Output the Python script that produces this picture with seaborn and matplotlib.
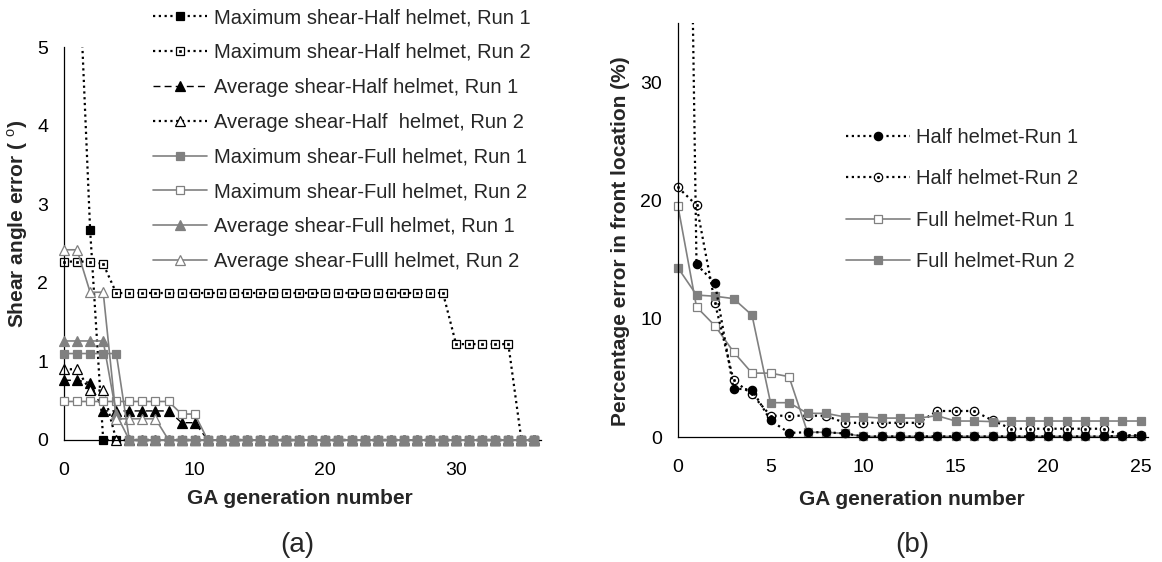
import matplotlib
matplotlib.use("Agg")
import matplotlib.pyplot as plt
import seaborn as sns
import pandas as pd
from matplotlib.lines import Line2D
from matplotlib.legend_handler import HandlerTuple
from matplotlib.transforms import Bbox, TransformedBbox

# ---------------- data: panel (a) ----------------
gen_a = list(range(37))
max_half_r1 = [7.0, 6.6, 2.67, 0, 0, 0, 0, 0, 0, 0, 0, 0, 0, 0, 0, 0, 0, 0, 0, 0,
               0, 0, 0, 0, 0, 0, 0, 0, 0, 0, 0, 0, 0, 0, 0, 0, 0]
max_half_r2 = [2.27, 2.27, 2.27, 2.24, 1.87, 1.87, 1.87, 1.87, 1.87, 1.87, 1.87, 1.87,
               1.87, 1.87, 1.87, 1.87, 1.87, 1.87, 1.87, 1.87, 1.87, 1.87, 1.87, 1.87,
               1.87, 1.87, 1.87, 1.87, 1.87, 1.87, 1.22, 1.22, 1.22, 1.22, 1.22, 0, 0]
avg_half_r1 = [0.76, 0.76, 0.73, 0.37, 0.37, 0.37, 0.37, 0.37, 0.37, 0.22, 0.22, 0, 0,
               0, 0, 0, 0, 0, 0, 0, 0, 0, 0, 0, 0, 0, 0, 0, 0, 0, 0, 0, 0, 0, 0, 0, 0]
avg_half_r2 = [0.9, 0.9, 0.63, 0.63, 0, 0, 0, 0, 0, 0, 0, 0, 0, 0, 0, 0, 0, 0, 0, 0,
               0, 0, 0, 0, 0, 0, 0, 0, 0, 0, 0, 0, 0, 0, 0, 0, 0]
max_full_r1 = [1.1, 1.1, 1.1, 1.1, 1.1, 0, 0, 0, 0, 0, 0, 0, 0, 0, 0, 0, 0, 0, 0, 0,
               0, 0, 0, 0, 0, 0, 0, 0, 0, 0, 0, 0, 0, 0, 0, 0, 0]
max_full_r2 = [0.49, 0.49, 0.49, 0.49, 0.49, 0.49, 0.49, 0.49, 0.49, 0.33, 0.33, 0, 0,
               0, 0, 0, 0, 0, 0, 0, 0, 0, 0, 0, 0, 0, 0, 0, 0, 0, 0, 0, 0, 0, 0, 0, 0]
avg_full_r1 = [1.26, 1.26, 1.26, 1.26, 0.33, 0, 0, 0, 0, 0, 0, 0, 0, 0, 0, 0, 0, 0, 0,
               0, 0, 0, 0, 0, 0, 0, 0, 0, 0, 0, 0, 0, 0, 0, 0, 0, 0]
avg_full_r2 = [2.42, 2.42, 1.88, 1.88, 0.27, 0.27, 0.27, 0.27, 0, 0, 0, 0, 0, 0, 0, 0,
               0, 0, 0, 0, 0, 0, 0, 0, 0, 0, 0, 0, 0, 0, 0, 0, 0, 0, 0, 0, 0]
labels_a = ["Maximum shear-Half helmet, Run 1",
            "Maximum shear-Half helmet, Run 2",
            "Average shear-Half helmet, Run 1",
            "Average shear-Half  helmet, Run 2",
            "Maximum shear-Full helmet, Run 1",
            "Maximum shear-Full helmet, Run 2",
            "Average shear-Full helmet, Run 1",
            "Average shear-Fulll helmet, Run 2"]

# ---------------- data: panel (b) ----------------
gen_b = list(range(26))
half_r1 = [120, 14.6, 13.0, 4.1, 4.0, 1.4, 0.35, 0.4, 0.4, 0.3, 0.05, 0.05, 0.05,
           0.05, 0.05, 0.05, 0.05, 0.05, 0.05, 0.05, 0.05, 0.05, 0.05, 0.05, 0.1, 0.1]
half_r2 = [21.1, 19.6, 11.3, 4.8, 3.6, 1.8, 1.8, 1.8, 1.8, 1.2, 1.2, 1.2, 1.2, 1.2,
           2.2, 2.2, 2.2, 1.4, 0.7, 0.7, 0.7, 0.7, 0.7, 0.7, 0.15, 0.15]
full_r1 = [19.5, 11.0, 9.4, 7.2, 5.4, 5.4, 5.1, 0.4, 0.4, 0.3, 0.05, 0.05, 0.05,
           0.05, 0.05, 0.05, 0.05, 0.05, 0.05, 0.05, 0.05, 0.05, 0.05, 0.05, 0.1, 0.1]
full_r2 = [14.3, 12.0, 11.9, 11.7, 10.3, 2.9, 2.9, 2.0, 2.0, 1.7, 1.7, 1.6, 1.6, 1.6,
           1.8, 1.35, 1.35, 1.3, 1.35, 1.35, 1.35, 1.35, 1.35, 1.35, 1.35, 1.35]
labels_b = ["Half helmet-Run 1", "Half helmet-Run 2",
            "Full helmet-Run 1", "Full helmet-Run 2"]

# ---------------- style ----------------
sns.set_style("white")
plt.rcParams["font.family"] = ["Liberation Sans", "DejaVu Sans"]
plt.rcParams["mathtext.fontset"] = "custom"
plt.rcParams["mathtext.rm"] = "Liberation Sans"
plt.rcParams["mathtext.bf"] = "Liberation Sans:bold"

GRAY = "#808080"
K = "black"
DOT = (0, (1, 1.6))
DASH = (0, (5, 3))

fig = plt.figure(figsize=(11.62, 5.62), dpi=100)
ax_a = fig.add_axes([64 / 1162, 122 / 562, 477 / 1162, 393 / 562])
ax_b = fig.add_axes([678 / 1162, 125 / 562, 470 / 1162, 414 / 562])


def draw(ax, x, y, st, z=2):
    df = pd.DataFrame({"x": x, "y": y})
    sns.lineplot(data=df, x="x", y="y", ax=ax, color=st["c"], linestyle=st["ls"],
                 linewidth=st["lw"], marker=st["m"], markersize=st["ms"],
                 markerfacecolor=st["mfc"], markeredgecolor=st["c"],
                 markeredgewidth=0.9, zorder=z, legend=False, errorbar=None,
                 sort=False)
    line = ax.lines[-1]
    line.set_clip_path(None)
    line.set_clip_box(TransformedBbox(Bbox([[-0.05, -0.08], [1.05, 1.0]]), ax.transAxes))
    return line


def dots(ax, x, y, m, z=2):
    df = pd.DataFrame({"x": x, "y": y})
    sns.lineplot(data=df, x="x", y="y", ax=ax, color=K, linestyle="none", marker=m,
                 markersize=1.6, markerfacecolor=K, markeredgecolor=K,
                 markeredgewidth=0.5, zorder=z, legend=False, errorbar=None, sort=False)
    line = ax.lines[-1]
    line.set_clip_path(None)
    line.set_clip_box(TransformedBbox(Bbox([[-0.05, -0.08], [1.05, 1.0]]), ax.transAxes))


def proxy(st):
    return Line2D([], [], color=st["c"], linestyle=st["ls"], linewidth=st["lw"],
                  marker=st["m"], markersize=st["ms"], markerfacecolor=st["mfc"],
                  markeredgecolor=st["c"], markeredgewidth=0.9)


def dot_proxy(m):
    return Line2D([], [], color=K, linestyle="none", marker=m, markersize=1.6,
                  markerfacecolor=K, markeredgecolor=K, markeredgewidth=0.5)


# ---------------- panel (a) ----------------
st_a = [
    dict(c=K, ls=DOT, lw=1.6, m="s", ms=5.5, mfc=K),
    dict(c=K, ls=DOT, lw=1.6, m="s", ms=5.5, mfc="white"),
    dict(c=K, ls=DASH, lw=1.0, m="^", ms=7, mfc=K),
    dict(c=K, ls=DOT, lw=1.6, m="^", ms=7, mfc="white"),
    dict(c=GRAY, ls="-", lw=1.2, m="s", ms=6, mfc=GRAY),
    dict(c=GRAY, ls="-", lw=1.2, m="s", ms=6, mfc="white"),
    dict(c=GRAY, ls="-", lw=1.2, m="^", ms=7, mfc=GRAY),
    dict(c=GRAY, ls="-", lw=1.2, m="^", ms=7, mfc="white"),
]
series_a = [max_half_r1, max_half_r2, avg_half_r1, avg_half_r2,
            max_full_r1, max_full_r2, avg_full_r1, avg_full_r2]
zs_a = [2.1, 2.2, 2.3, 2.4, 3.5, 2.6, 2.7, 2.8]
for y, st, z in zip(series_a, st_a, zs_a):
    draw(ax_a, gen_a, y, st, z)
    if st is st_a[1]:
        dots(ax_a, gen_a, y, "s", z + 0.01)

ax_a.set_xlim(0, 36.5)
ax_a.set_ylim(0, 5)
ax_a.set_xticks([0, 10, 20, 30])
ax_a.set_yticks([0, 1, 2, 3, 4, 5])
ax_a.set_xlabel("GA generation number", fontsize=15, fontweight="bold")
ax_a.set_ylabel(r"Shear angle error ( $^{\mathrm{o}}$)", fontsize=15, fontweight="bold")
ax_a.xaxis.set_label_coords(0.495, -0.125)
ax_a.yaxis.set_label_coords(-0.072, 0.55)

handles_a = [proxy(s) for s in st_a]
handles_a[1] = (handles_a[1], dot_proxy("s"))
fig.legend(handles_a, labels_a, loc="upper left",
           bbox_to_anchor=(153 / 1162, 1 - 8 / 562), frameon=False, fontsize=14.5,
           handlelength=2.7, handletextpad=0.35, labelspacing=0.79, borderpad=0,
           borderaxespad=0, handler_map={tuple: HandlerTuple(ndivide=1)})

# ---------------- panel (b) ----------------
st_b = [
    dict(c=K, ls=DOT, lw=1.6, m="o", ms=6, mfc=K),
    dict(c=K, ls=DOT, lw=1.6, m="o", ms=6, mfc="white"),
    dict(c=GRAY, ls="-", lw=1.2, m="s", ms=6.2, mfc="white"),
    dict(c=GRAY, ls="-", lw=1.2, m="s", ms=6.2, mfc=GRAY),
]
series_b = [half_r1, half_r2, full_r1, full_r2]
zs_b = [3.5, 2.2, 2.1, 2.4]
for y, st, z in zip(series_b, st_b, zs_b):
    draw(ax_b, gen_b, y, st, z)
    if st is st_b[1]:
        dots(ax_b, gen_b, y, "o", z + 0.01)

ax_b.set_xlim(0, 25.4)
ax_b.set_ylim(0, 35)
ax_b.set_xticks([0, 5, 10, 15, 20, 25])
ax_b.set_yticks([0, 10, 20, 30])
ax_b.set_xlabel("GA generation number", fontsize=15, fontweight="bold")
ax_b.set_ylabel("Percentage error in front location (%)", fontsize=15, fontweight="bold")
ax_b.xaxis.set_label_coords(0.498, -0.128)
ax_b.yaxis.set_label_coords(-0.102, 0.472)

handles_b = [proxy(s) for s in st_b]
handles_b[1] = (handles_b[1], dot_proxy("o"))
fig.legend(handles_b, labels_b, loc="upper left",
           bbox_to_anchor=(846 / 1162, 1 - 128 / 562), frameon=False, fontsize=14.5,
           handlelength=3.2, handletextpad=0.3, labelspacing=1.11, borderpad=0,
           borderaxespad=0, handler_map={tuple: HandlerTuple(ndivide=1)})

# ---------------- common axis styling ----------------
for ax in (ax_a, ax_b):
    for side in ("top", "right"):
        ax.spines[side].set_visible(False)
    for side in ("left", "bottom"):
        ax.spines[side].set_color("black")
        ax.spines[side].set_linewidth(0.9)
    ax.tick_params(axis="both", direction="out", length=4, width=0.9, colors="black",
                   labelsize=14)
    ax.tick_params(axis="x", pad=12)
    ax.tick_params(axis="y", pad=7.5)
    ax.grid(False)
    ax.set_facecolor("white")

fig.text(297 / 1162, 1 - 545 / 562, "(a)", ha="center", va="center", fontsize=20)
fig.text(912 / 1162, 1 - 545 / 562, "(b)", ha="center", va="center", fontsize=20)

fig.savefig("out.png", dpi=100, facecolor="white")
